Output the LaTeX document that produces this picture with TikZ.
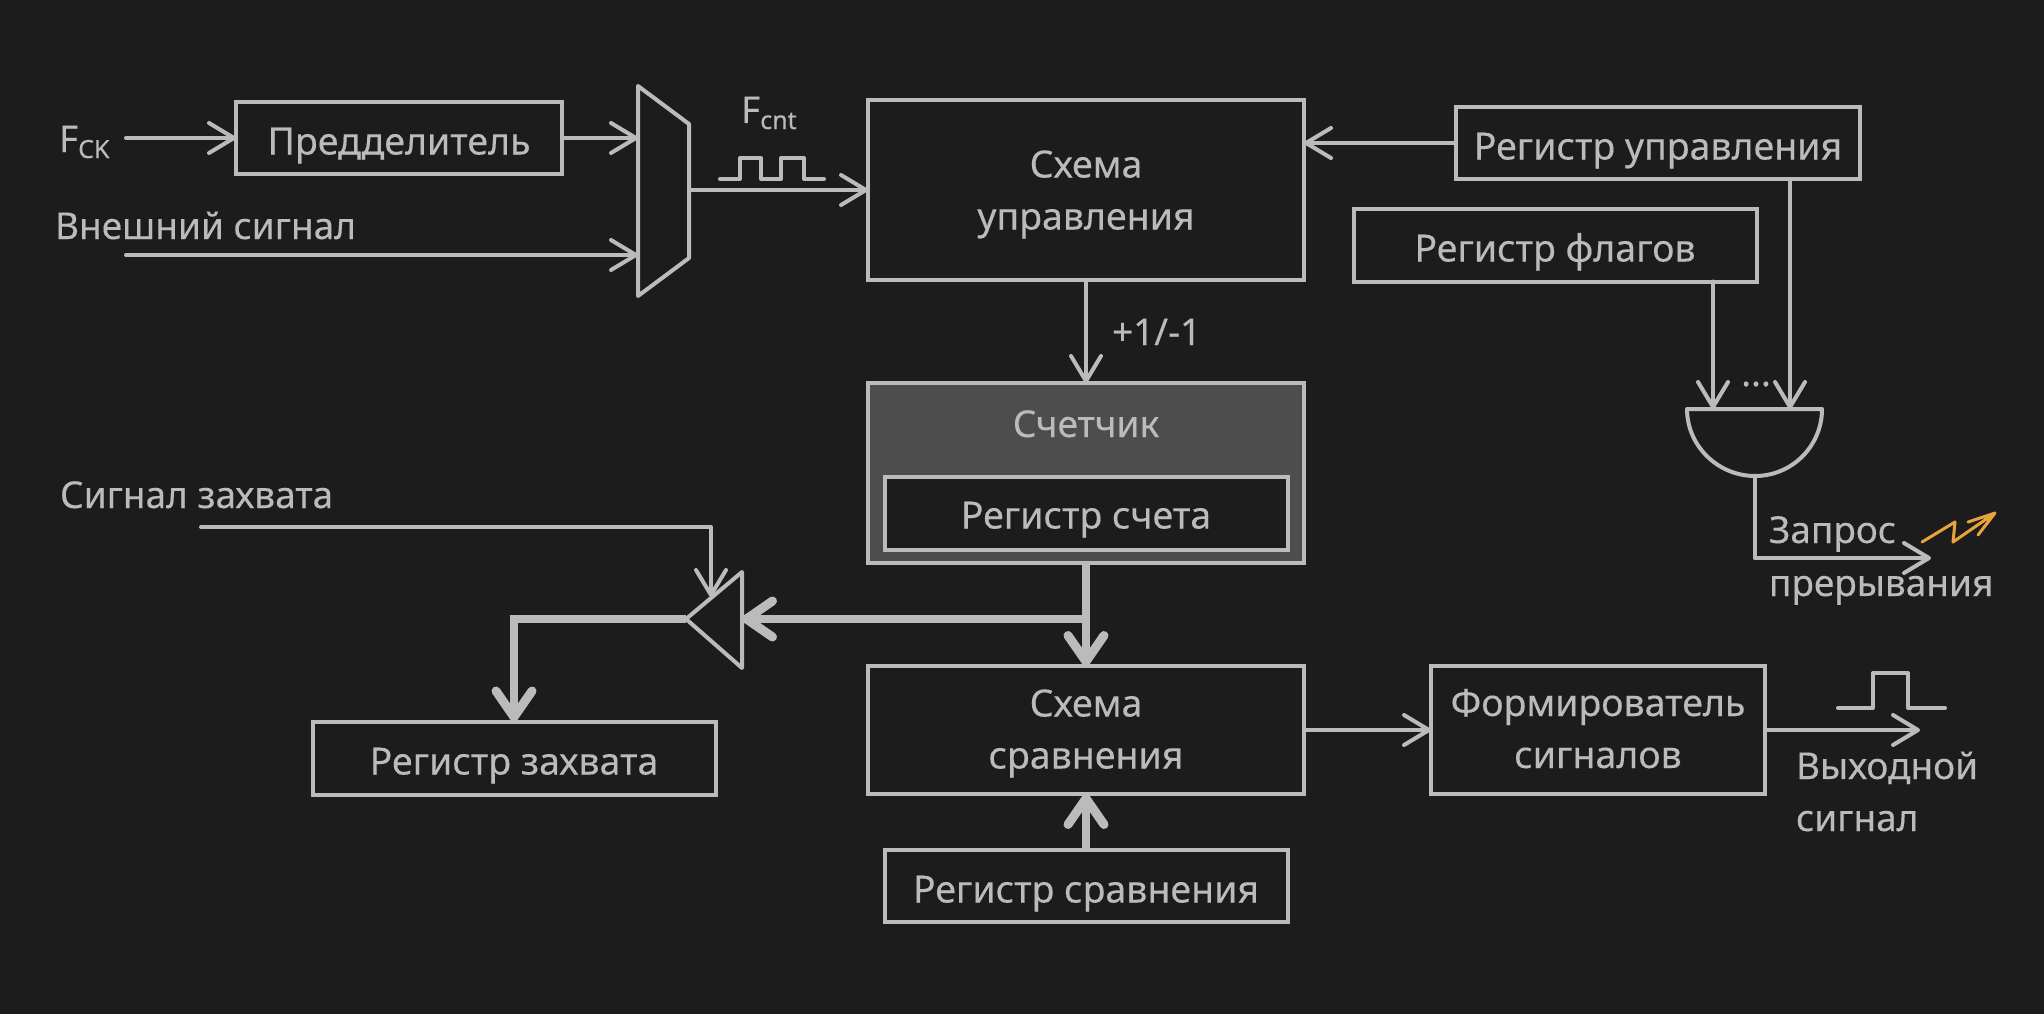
\documentclass[tikz,border=0pt]{standalone}
\usepackage{fontspec}
\setmainfont[FakeBold=0.25]{Noto Sans}
\usetikzlibrary{arrows.meta,calc}
\definecolor{bgc}{HTML}{1C1C1C}
\definecolor{fgc}{HTML}{BBBBBB}
\definecolor{cntc}{HTML}{4D4D4D}
\definecolor{orangec}{HTML}{E8A33D}
\newcommand\dnrule[1]{\rule{0pt}{#1pt}}
\tikzset{
  boxn/.style={draw=fgc,line width=4pt,rectangle,inner sep=0pt,outer sep=0pt,text=fgc,align=center,font=\fontsize{37.5}{52}\selectfont},
  lbl/.style={text=fgc,inner sep=0pt,outer sep=0pt,align=left,font=\fontsize{37}{52}\selectfont},
  wire/.style={draw=fgc,line width=4pt,line cap=round,line join=round},
  arr/.style={wire,-{Straight Barb[length=25pt,width=30pt,line width=4pt,round]}},
  bus/.style={draw=fgc,line width=8pt,line join=miter},
  busarr/.style={bus,-{Straight Barb[length=26pt,width=36pt,line width=9pt,round]}},
  sym/.style={draw=fgc,line width=4pt,line join=round,line cap=round},
}
\begin{document}
\begin{tikzpicture}[x=1pt,y=-1pt]
\path[fill=bgc] (0,0) rectangle (2044,1014);
% boxes
\node[boxn,minimum width=326pt,minimum height=72pt] (prediv) at (399,138) {\dnrule{42}Предделитель};
\node[boxn,minimum width=436pt,minimum height=180pt] (ctrl) at (1086,190) {\dnrule{36}Схема\\управления};
\node[boxn,minimum width=404pt,minimum height=72pt] (regctrl) at (1658,143) {\dnrule{42}Регистр управления};
\node[boxn,minimum width=403pt,minimum height=73pt] (regflag) at (1555,245) {\dnrule{42}Регистр флагов};
\node[boxn,fill=cntc,minimum width=436pt,minimum height=180pt] (counter) at (1086,473) {};
\node[lbl,anchor=base] (countert) at (1086,437) {Счетчик};
\node[boxn,fill=bgc,minimum width=403pt,minimum height=73pt] (regcnt) at (1086,513) {\dnrule{40}Регистр счета};
\node[boxn,minimum width=436pt,minimum height=128pt] (cmp) at (1086,730) {\dnrule{34}Схема\\сравнения};
\node[boxn,minimum width=403pt,minimum height=72pt] (regcmp) at (1086,886) {\dnrule{42}Регистр сравнения};
\node[boxn,minimum width=403pt,minimum height=73pt] (regcap) at (514,758) {\dnrule{42}Регистр захвата};
\node[boxn,minimum width=334pt,minimum height=128pt] (former) at (1598,730) {\dnrule{34}Формирователь\\сигналов\rule[-10pt]{0pt}{1pt}};
% labels
\node[lbl,anchor=base west] (fck) at (59,152) {F\raisebox{-6pt}{\fontsize{25}{25}\selectfont CK}};
\node[lbl,anchor=base west] (ext) at (55,239) {Внешний сигнал};
\node[lbl,anchor=base west] (fcnt) at (741,123) {F\raisebox{-6pt}{\fontsize{25}{25}\selectfont cnt}};
\node[lbl,anchor=base west] (pm) at (1112,345) {+1/-1};
\node[lbl,anchor=base west] (capt) at (60,508) {Сигнал захвата};
\node[lbl,anchor=base west] (irq1) at (1769,543) {Запрос};
\node[lbl,anchor=base west] (irq2) at (1769,596) {прерывания};
\node[lbl,anchor=base west] (out1) at (1796,779) {Выходной};
\node[lbl,anchor=base west] (out2) at (1796,831) {сигнал};
\node[lbl,anchor=base] (dots) at (1756,386) {...};
% mux
\coordinate (m1) at (638,86); \coordinate (m2) at (689,124);
\coordinate (m3) at (689,258); \coordinate (m4) at (638,296);
\draw[sym] (m1) -- (m2) -- (m3) -- (m4) -- cycle;
% capture triangle
\coordinate (t1) at (686,619); \coordinate (t2) at (742,572); \coordinate (t3) at (742,668);
\draw[sym] (t1) -- (t2) -- (t3) -- cycle;
% AND gate
\coordinate (g1) at (1687,409); \coordinate (g2) at (1822,409); \coordinate (g3) at (1755,476);
\draw[sym] (g1) -- (g2) .. controls (1822,446) and (1792,476) .. (g3) .. controls (1718,476) and (1687,446) .. (g1) -- cycle;
% wire end points
\coordinate (fcks) at (126,138);
\coordinate (exts) at (126,255);
\coordinate (caps) at (201,527);
\coordinate (capc) at (711,527);
\coordinate (capend) at (711,597);
\coordinate (irqc) at (1755,558);
\coordinate (irqe) at (1931,558);
\coordinate (oute) at (1920,730);
\coordinate (busj) at (1086,619);
\coordinate (busl) at (514,619);
% connectors
\draw[arr] (fcks) -- (fcks -| prediv.west);
\draw[arr] (prediv.east) -- (prediv.east -| m1);
\draw[arr] (exts) -- (exts -| m1);
\draw[arr] (m2 |- ctrl.west) -- (ctrl.west);
\draw[arr] (regctrl.west) -- (regctrl.west -| ctrl.east);
\draw[arr] (ctrl.south) -- (counter.north);
\draw[arr] (regctrl.south -| g2) ++(-32,0) coordinate (rc) -- (rc |- g1);
\draw[arr] (regflag.south -| g1) ++(26,0) coordinate (rf) -- (rf |- g1);
\draw[wire] (g3) -- (irqc);
\draw[arr] (irqc) -- (irqe);
\draw[arr] (caps) -- (capc) -- (capend);
\draw[arr] (cmp.east) -- (former.west);
\draw[arr] (former.east) -- (oute);
\draw[busarr] (counter.south) -- (cmp.north);
\draw[busarr] (regcmp.north) -- (cmp.south);
\draw[busarr] (busj) -- (t2 |- busj);
\draw[busarr] (t1) -- (busl) -- (regcap.north);
% pulses
\draw[sym] (720,179) -- (740,179) -- (740,158) -- (761,158) -- (761,179) -- (781,179) -- (781,158) -- (804,158) -- (804,179) -- (824,179);
\draw[sym] (1838,708) -- (1873,708) -- (1873,673) -- (1908,673) -- (1908,708) -- (1945,708);
% lightning
\draw[draw=orangec,line width=3pt,line cap=round,line join=round] (1922,542) -- (1955,522) -- (1953,542) -- (1995,513) (1968,522) -- (1995,513) -- (1978,535);
\end{tikzpicture}
\end{document}
